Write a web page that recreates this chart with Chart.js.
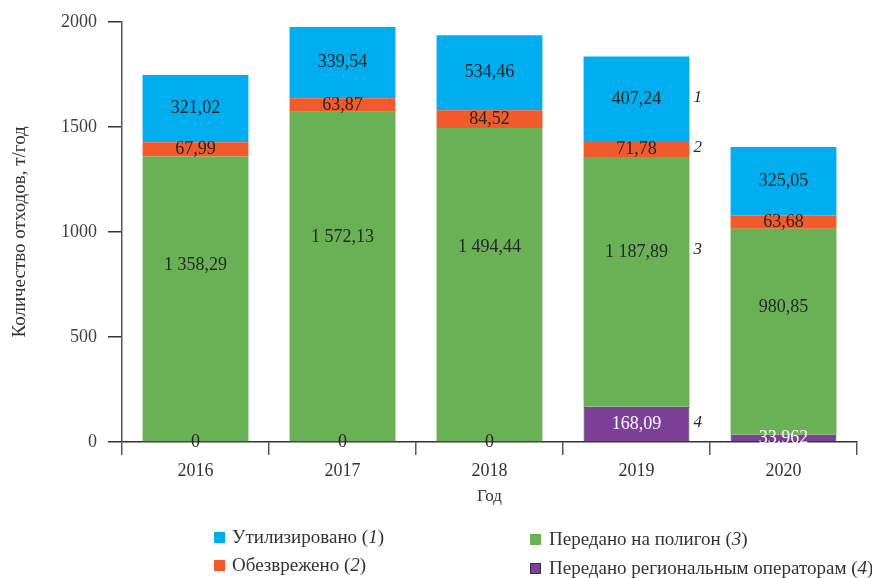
<!DOCTYPE html>
<html lang="ru">
<head>
<meta charset="utf-8">
<title>Количество отходов</title>
<script src="https://cdn.jsdelivr.net/npm/chart.js"></script>
<style>
  html, body { margin: 0; padding: 0; background: #fff; }
  #wrap { position: relative; width: 872px; height: 578px; overflow: hidden; }
  .lg { position: absolute; height: 20px; line-height: 20px; font: 19px/20px "Liberation Serif", serif; color: #333; white-space: nowrap; display: flex; align-items: center; }
  .lg i.sw { display: inline-block; width: 11px; height: 11px; box-sizing: border-box; flex: none; }
  .lg span { margin-left: 7px; }
  .lg.r span { margin-left: 8px; }
</style>
</head>
<body>
<div id="wrap">
  <canvas id="chart" width="872" height="578"></canvas>
  <div class="lg" style="left:214px; top:527px;"><i class="sw" style="background:#00adef"></i><span>Утилизировано (<em>1</em>)</span></div>
  <div class="lg" style="left:214px; top:555px;"><i class="sw" style="background:#f15a2b"></i><span>Обезврежено (<em>2</em>)</span></div>
  <div class="lg r" style="left:530px; top:529px;"><i class="sw" style="background:#6ab155"></i><span>Передано на полигон (<em>3</em>)</span></div>
  <div class="lg r" style="left:530px; top:558px;"><i class="sw" style="background:#7e3f98; border:1px solid #333"></i><span>Передано региональным операторам (<em>4</em>)</span></div>
</div>
<script>
  const years = ['2016', '2017', '2018', '2019', '2020'];
  // bottom to top (bar heights as drawn)
  const regional = [0, 0, 0, 168.09, 33.962];
  const landfill = [1358.29, 1572.13, 1494.44, 1187.89, 980.85];
  const neutralized = [67.99, 63.87, 84.52, 71.78, 63.68];
  const utilized = [321.02, 339.54, 357, 407.24, 325.05];
  // printed labels (2018 utilized bar is drawn shorter than its label says)
  const utilizedText = ['321,02', '339,54', '534,46', '407,24', '325,05'];
  const markers = ['4', '3', '2', '1'];
  const markerYear = 3;

  const serif = '"Liberation Serif", serif';

  function fmt(v) {
    const s = String(v).split('.');
    const int = s[0].replace(/\B(?=(\d{3})+(?!\d))/g, ' ');
    return s.length > 1 ? int + ',' + s[1] : int;
  }

  const valueLabels = {
    id: 'valueLabels',
    afterDatasetsDraw(chart) {
      const ctx = chart.ctx;
      const y = chart.scales.y;
      ctx.save();
      ctx.textBaseline = 'middle';
      chart.data.datasets.forEach((ds, di) => {
        const meta = chart.getDatasetMeta(di);
        meta.data.forEach((bar, i) => {
          let base = 0;
          for (let k = 0; k < di; k++) base += chart.data.datasets[k].data[i];
          const v = ds.data[i];
          const frac = di === 1 ? 0.62 : 0.5;
          const py = y.getPixelForValue(base + v * frac);
          const txt = ds.texts ? ds.texts[i] : fmt(v);
          ctx.font = '18px ' + serif;
          ctx.textAlign = 'center';
          ctx.fillStyle = (di === 0 && v > 0) ? '#ffffff' : '#262626';
          ctx.fillText(txt, bar.x, py);
          if (i === markerYear) {
            ctx.font = 'italic 17px ' + serif;
            ctx.textAlign = 'left';
            ctx.fillStyle = '#262626';
            ctx.fillText(markers[di], bar.x + bar.width / 2 + 4, py - 2);
          }
        });
      });
      ctx.restore();
    }
  };

  new Chart(document.getElementById('chart'), {
    type: 'bar',
    data: {
      labels: years,
      datasets: [
        { label: 'Передано региональным операторам (4)', data: regional, backgroundColor: '#7e3f98', borderColor: '#333', borderWidth: 1 },
        { label: 'Передано на полигон (3)', data: landfill, backgroundColor: '#6ab155' },
        { label: 'Обезврежено (2)', data: neutralized, backgroundColor: '#f15a2b' },
        { label: 'Утилизировано (1)', data: utilized, texts: utilizedText, backgroundColor: '#00adef' }
      ]
    },
    options: {
      responsive: false,
      animation: false,
      categoryPercentage: 1,
      barPercentage: 0.72,
      layout: { padding: { left: 0, right: 15, top: 14, bottom: 71 } },
      plugins: { legend: { display: false }, tooltip: { enabled: false } },
      scales: {
        x: {
          stacked: true,
          afterFit: s => { s.height = 65; },
          grid: { offset: true, drawOnChartArea: false, drawTicks: true, tickLength: 13, color: '#595959', lineWidth: 1.5 },
          border: { display: true, color: '#333', width: 1.5 },
          ticks: { padding: 5, color: '#333', font: { family: serif, size: 18 } },
          title: { display: true, text: 'Год', color: '#333', font: { family: serif, size: 17 }, padding: { top: 4, bottom: 0 } }
        },
        y: {
          stacked: true,
          min: 0,
          max: 2000,
          afterFit: s => { s.width = 122; },
          ticks: { stepSize: 500, padding: 11, color: '#404040', font: { family: serif, size: 18 }, callback: v => String(v) },
          grid: { drawOnChartArea: false, drawTicks: true, tickLength: 14, color: '#333', lineWidth: 1.5 },
          border: { display: true, color: '#595959', width: 1.5 },
          title: { display: true, text: 'Количество отходов, т/год', color: '#333', font: { family: serif, size: 19 }, padding: { top: 9, bottom: 0 } }
        }
      }
    },
    plugins: [valueLabels]
  });
</script>
</body>
</html>
